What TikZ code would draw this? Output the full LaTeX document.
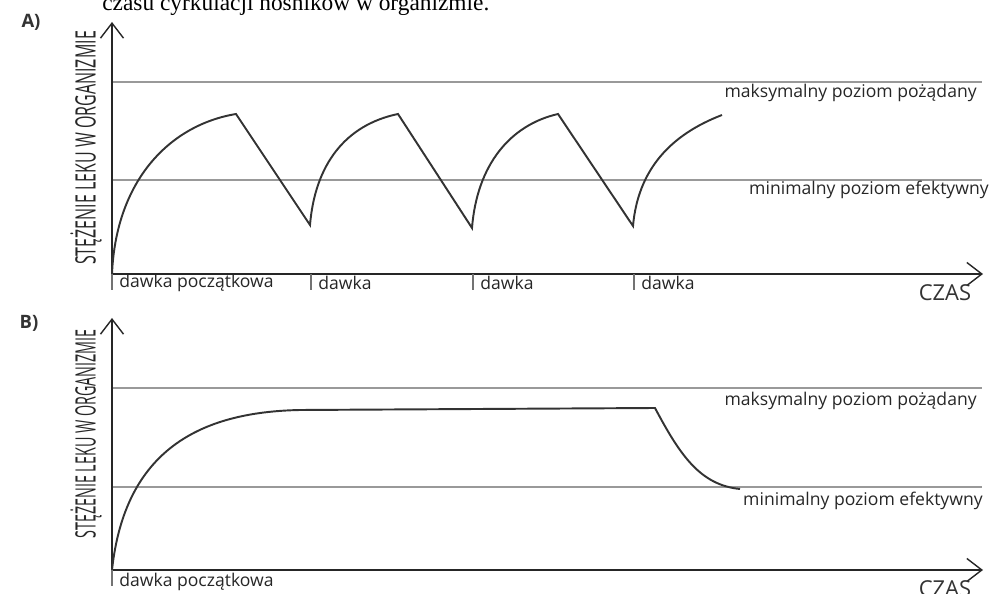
\documentclass[tikz,border=0pt]{standalone}
\usepackage{fontspec}
\setmainfont{Open Sans}
\newfontfamily\cutserif{Liberation Serif}
\usetikzlibrary{arrows.meta}

\tikzset{
  axis/.style={draw=black!85, line width=1.1pt,
    -{Straight Barb[length=0.3cm,width=0.46cm,line width=0.8pt]}},
  level/.style={draw=black!40, line width=1.1pt},
  conc/.style={draw=black!80, line width=1.1pt, line join=miter},
  dosetick/.style={draw=black!55, line width=0.8pt},
  lbl/.style={font=\fontsize{10}{12}\selectfont, text=black!85, inner sep=0pt},
  timelbl/.style={font=\fontsize{12.5}{14}\selectfont, text=black!80, inner sep=0pt},
  panel/.style={font=\bfseries\fontsize{10.5}{12}\selectfont, text=black!80, inner sep=0pt},
  ylbl/.style={rotate=90, inner sep=0pt, text=black!85, font=\fontsize{16}{18}\selectfont}
}

\begin{document}
\begin{tikzpicture}[x=0.02cm,y=-0.02cm]
\useasboundingbox (0,0) rectangle (1005,594);
\node[anchor=base west, inner sep=0pt, font=\cutserif\fontsize{13.3}{13.3}\selectfont]
  (cut) at (102,11) {czasu cyrkulacji nośników w organizmie.};

% panel A
\node[panel] (labA) at (31,22) {A)};
\coordinate (oA) at (112,274);
\coordinate (yA) at (112,22);
\coordinate (xA) at (983,274);
\draw[level] (112,82) coordinate (maxA) -- (982,82) coordinate (maxAe);
\draw[level] (112,180) coordinate (minA) -- (982,180) coordinate (minAe);
\draw[axis] (oA) -- (yA);
\draw[axis] (oA) -- (xA);
\node[ylbl] (yA-text) at (86,148) {\scalebox{0.57}[1]{STĘŻENIE LEKU W ORGANIZMIE}};
\node[lbl, anchor=east] (maxA-text) at (977,93) {maksymalny poziom pożądany};
\node[lbl, anchor=east] (minA-text) at (989,190) {minimalny poziom efektywny};
\draw[conc] (oA) .. controls (116,180) and (170,125) .. (236,114) -- (310,225)
  .. controls (315,165) and (345,125) .. (398,114) -- (472,228)
  .. controls (477,165) and (510,125) .. (558,114) -- (633,226)
  .. controls (638,170) and (670,135) .. (722,115);
% doses
\foreach \dx/\txt [count=\i] in {112/dawka początkowa, 311/dawka, 473/dawka, 634/dawka} {
  \draw[dosetick] (\dx,274) -- (\dx,290);
  \node[lbl, anchor=west] (doseA\i) at (\dx+7,283) {\txt};
}
\node[timelbl] (timeA) at (945,293) {CZAS};

% panel B
\node[panel] (labB) at (29,323) {B)};
\coordinate (oB) at (112,570);
\coordinate (yB) at (112,318);
\coordinate (xB) at (983,570);
\draw[level] (112,388) coordinate (maxB) -- (982,388) coordinate (maxBe);
\draw[level] (112,487) coordinate (minB) -- (982,487) coordinate (minBe);
\draw[axis] (oB) -- (yB);
\draw[axis] (oB) -- (xB);
\node[ylbl] (yB-text) at (86,434) {\scalebox{0.51}[1]{STĘŻENIE LEKU W ORGANIZMIE}};
\node[lbl, anchor=east] (maxB-text) at (977,401) {maksymalny poziom pożądany};
\node[lbl, anchor=east] (minB-text) at (983,501) {minimalny poziom efektywny};
\draw[conc] (oB) .. controls (125,450) and (200,412) .. (300,410) -- (655,408)
  .. controls (680,455) and (700,485) .. (740,489);
\draw[dosetick] (112,570) -- (112,586);
\node[lbl, anchor=west] (doseB) at (119,582) {dawka początkowa};
\node[timelbl] (timeB) at (945,589) {CZAS};
\end{tikzpicture}
\end{document}
